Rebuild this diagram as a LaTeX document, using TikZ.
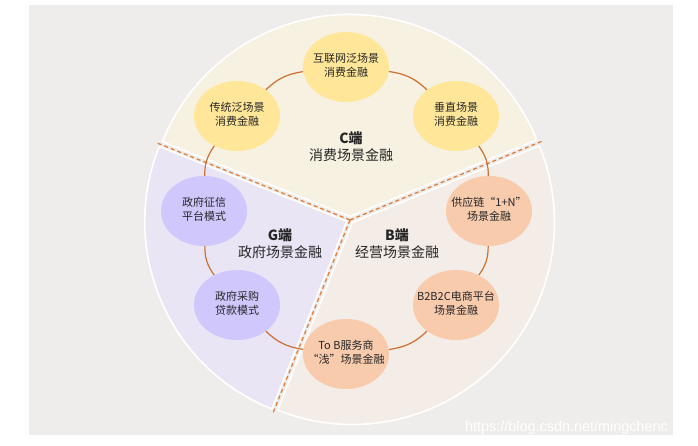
\documentclass[tikz,border=0pt]{standalone}
\usepackage{fontspec}
\setmainfont{Noto Sans CJK SC}
\newfontfamily\wmfont{Liberation Sans}
\usetikzlibrary{shapes.geometric}
\definecolor{bggray}{HTML}{EEEDEB}
\definecolor{cfill}{HTML}{F6F1E1}
\definecolor{gfill}{HTML}{E9E5F4}
\definecolor{bfill}{HTML}{F4ECE6}
\definecolor{yel}{HTML}{FFE699}
\definecolor{pur}{HTML}{D0C8FD}
\definecolor{pea}{HTML}{F8CBAD}
\definecolor{linkc}{HTML}{CF7030}
\definecolor{dashc}{HTML}{E07F3C}
\definecolor{txt}{HTML}{262626}
\newcommand\blobtext[1]{\makebox[0pt]{\begin{tabular}{@{}c@{}}#1\end{tabular}}}
\tikzset{
  blob/.style={ellipse, minimum width=86pt, minimum height=70pt, inner sep=0pt,
    font=\fontsize{11}{13.5}\selectfont, text=txt},
  cblob/.style={blob, fill=yel},
  gblob/.style={blob, fill=pur},
  bblob/.style={blob, fill=pea},
  sector/.style={draw=white, line width=1.6pt, line join=round},
  sepline/.style={draw=dashc, line width=1.3pt, dash pattern=on 4pt off 3pt},
  link/.style={draw=linkc, line width=1.2pt},
  title/.style={align=center, font=\fontsize{14}{17}\selectfont, text=txt}
}
\begin{document}
\begin{tikzpicture}[x=1pt,y=1pt]
\useasboundingbox (0,0) rectangle (698,446);
\fill[bggray] (29,11) rectangle (673,441);
% sectors
\path[sector, fill=cfill, shift={(90:3.5)}] (350,226) -- ++(22.3:202) arc[start angle=22.3, end angle=158.25, radius=202] -- cycle;
\path[sector, fill=gfill, shift={(203.25:3.5)}] (350,226) -- ++(158.25:202) arc[start angle=158.25, end angle=248.25, radius=202] -- cycle;
\path[sector, fill=bfill, shift={(315.3:3.5)}] (350,226) -- ++(248.25:202) arc[start angle=248.25, end angle=382.3, radius=202] -- cycle;
% separators
\coordinate (o) at (350,226);
\path[sepline] (o) -- ++(158.25:208);
\path[sepline] (o) -- ++(22.3:208);
\path[sepline] (o) -- ++(248.25:208);
% nodes
\node[cblob] (inet) at (346,379) {\blobtext{互联网泛场景\\消费金融}};
\node[cblob] (trad) at (237,330) {\blobtext{传统泛场景\\消费金融}};
\node[cblob] (vert) at (456,330) {\blobtext{垂直场景\\消费金融}};
\node[gblob] (gzx) at (204,235) {\blobtext{政府征信\\平台模式}};
\node[gblob] (gcg) at (237,141) {\blobtext{政府采购\\贷款模式}};
\node[bblob] (tob) at (346,92) {\blobtext{To B服务商\\“浅”场景金融}};
\node[bblob] (gyl) at (489,235) {\blobtext{供应链“1+N”\\场景金融}};
\node[bblob] (b2b) at (456,141) {\blobtext{B2B2C电商平台\\场景金融}};
% ring links
\draw[link] (inet) to[bend left=18] (vert);
\draw[link] (vert) to[bend left=18] (gyl);
\draw[link] (gyl) to[bend left=18] (b2b);
\draw[link] (b2b) to[bend left=18] (tob);
\draw[link] (tob) to[bend left=18] (gcg);
\draw[link] (gcg) to[bend left=18] (gzx);
\draw[link] (gzx) to[bend left=18] (trad);
\draw[link] (trad) to[bend left=18] (inet);
% titles
\node[title] (ct) at (351,299) {\textbf{C端}\\消费场景金融};
\node[title] (gt) at (280,202) {\textbf{G端}\\政府场景金融};
\node[title] (bt) at (397,202) {\textbf{B端}\\经营场景金融};
% watermark
\node[text=white, font=\wmfont\fontsize{14.4}{16}\selectfont, anchor=west, inner sep=0pt] (wm) at (465,18) {https://blog.csdn.net/mingchenc};
\end{tikzpicture}
\end{document}
